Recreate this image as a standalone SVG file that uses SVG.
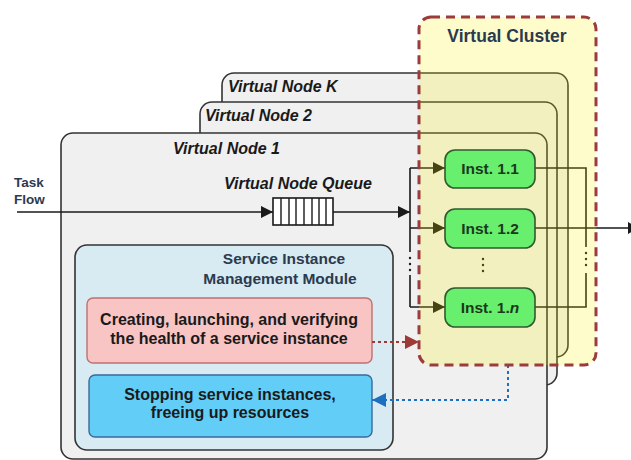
<svg xmlns="http://www.w3.org/2000/svg" width="631" height="460" viewBox="0 0 631 460">
<style>
  .vnode { fill: #f0f0f0; stroke: #333; stroke-width: 1.6; }
  .vlabel { font-family: "Liberation Sans", Arial, sans-serif; font-weight: bold; font-style: italic; font-size: 16px; fill: #1a1a1a; }
  .title { font-family: "Liberation Sans", Arial, sans-serif; font-weight: bold; fill: #2b3a4e; }
  .btxt { font-family: "Liberation Sans", Arial, sans-serif; font-weight: bold; font-size: 16px; fill: #1a1a1a; text-anchor: middle; }
  .inst rect { fill: #68ef6e; stroke: #2f5a2f; stroke-width: 1.6; }
  .inst text { font-family: "Liberation Sans", Arial, sans-serif; font-weight: bold; font-size: 15.5px; fill: #1a3a1a; text-anchor: middle; }
  .line { fill: none; stroke: #1a1a1a; stroke-width: 1.6; }
  .dots { fill: #1a1a1a; }
</style>
<defs>
  <marker id="arr" viewBox="0 0 10 10" refX="10" refY="5" markerWidth="7" markerHeight="7" orient="auto" markerUnits="userSpaceOnUse">
    <path d="M0,0 L10,5 L0,10 z" fill="#1a1a1a"/>
  </marker>
  <marker id="arrBig" viewBox="0 0 10 10" refX="10" refY="5" markerWidth="13" markerHeight="12" orient="auto" markerUnits="userSpaceOnUse">
    <path d="M0,0 L10,5 L0,10 z" fill="#1a1a1a"/>
  </marker>
  <marker id="arrRed" viewBox="0 0 10 10" refX="10" refY="5" markerWidth="14" markerHeight="14" orient="auto" markerUnits="userSpaceOnUse">
    <path d="M0,0 L10,5 L0,10 z" fill="#9b3a36"/>
  </marker>
  <marker id="arrBlue" viewBox="0 0 10 10" refX="10" refY="5" markerWidth="14" markerHeight="14" orient="auto" markerUnits="userSpaceOnUse">
    <path d="M0,0 L10,5 L0,10 z" fill="#1f6fc0"/>
  </marker>
</defs>

<rect x="0" y="0" width="631" height="460" fill="#ffffff"/>

<g id="virtual-node-k">
  <rect class="vnode" x="222" y="73" width="346" height="284" rx="12"/>
  <text class="vlabel" x="228" y="92">Virtual Node K</text>
</g>
<g id="virtual-node-2">
  <rect class="vnode" x="200" y="102" width="357" height="283" rx="12"/>
  <text class="vlabel" x="205" y="121">Virtual Node 2</text>
</g>
<g id="virtual-node-1">
  <rect class="vnode" x="61" y="133" width="486" height="326" rx="12"/>
  <text class="vlabel" x="173" y="154">Virtual Node 1</text>
</g>

<g id="task-flow">
  <text class="title" font-size="13.5" x="14" y="187">Task</text>
  <text class="title" font-size="13.5" x="14" y="204">Flow</text>
</g>

<g id="virtual-node-queue">
  <text class="vlabel" x="224" y="189">Virtual Node Queue</text>
  <rect x="273" y="198" width="60" height="27" fill="#ffffff" stroke="#1a1a1a" stroke-width="1.6"/>
  <path d="M281,198 V225 M289,198 V225 M296,198 V225 M304,198 V225 M312,198 V225 M319,198 V225 M326,198 V225" stroke="#1a1a1a" stroke-width="1.4"/>
</g>

<g id="sim-module">
  <rect x="75" y="245" width="318" height="205" rx="12" fill="#d8eaf2" stroke="#333" stroke-width="1.6"/>
  <text class="title" font-size="15.5" x="284" y="264" text-anchor="middle">Service Instance</text>
  <text class="title" font-size="15.5" x="280" y="284" text-anchor="middle">Management Module</text>
</g>
<g id="create-box">
  <rect x="87" y="298" width="285" height="65" rx="6" fill="#f8c4c4" stroke="#c07070" stroke-width="1.4"/>
  <text class="btxt" x="229" y="325">Creating, launching, and verifying</text>
  <text class="btxt" x="229" y="344">the health of a service instance</text>
</g>
<g id="stop-box">
  <rect x="89" y="375" width="283" height="62" rx="6" fill="#62cdf6" stroke="#3a6a9a" stroke-width="1.4"/>
  <text class="btxt" x="230" y="400">Stopping service instances,</text>
  <text class="btxt" x="230" y="418">freeing up resources</text>
</g>

<g id="connectors">
  <line class="line" x1="17" y1="212" x2="273" y2="212" marker-end="url(#arrBig)"/>
  <line class="line" x1="333" y1="212" x2="410" y2="212" marker-end="url(#arrBig)"/>
  <path class="line" d="M410,168 V252 M410,275 V307"/>
  <circle class="dots" cx="410" cy="258" r="1.2"/>
  <circle class="dots" cx="410" cy="264" r="1.2"/>
  <circle class="dots" cx="410" cy="270" r="1.2"/>
  <line class="line" x1="410" y1="168" x2="445" y2="168" marker-end="url(#arrBig)"/>
  <line class="line" x1="410" y1="228" x2="445" y2="228" marker-end="url(#arrBig)"/>
  <line class="line" x1="410" y1="307" x2="445" y2="307" marker-end="url(#arrBig)"/>
  <path class="line" d="M535,168 H586 V247 M586,273 V307 H535 M535,228 H640"/>
  <circle class="dots" cx="586" cy="253" r="1.2"/>
  <circle class="dots" cx="586" cy="259" r="1.2"/>
  <circle class="dots" cx="586" cy="265" r="1.2"/>
  <path d="M628,222 L638,228 L628,234 z" fill="#1a1a1a"/>
  <circle class="dots" cx="483" cy="259" r="1.2"/>
  <circle class="dots" cx="483" cy="265" r="1.2"/>
  <circle class="dots" cx="483" cy="271" r="1.2"/>
  <line x1="372" y1="342" x2="419" y2="342" stroke="#9b3a36" stroke-width="2" stroke-dasharray="3,3" marker-end="url(#arrRed)"/>
  <path d="M508,365 V400 H372" fill="none" stroke="#1f6fc0" stroke-width="2" stroke-dasharray="3,3" marker-end="url(#arrBlue)"/>
</g>

<g id="virtual-cluster">
  <rect x="419" y="17" width="177" height="348" rx="12" fill="#fff000" fill-opacity="0.2" stroke="#9b3b3b" stroke-width="3" stroke-dasharray="9,6"/>
  <text class="title" font-size="17.5" x="507" y="42" text-anchor="middle" fill="#1a1a1a">Virtual Cluster</text>
</g>

<g id="inst-1-1" class="inst">
  <rect x="445" y="150" width="90" height="38" rx="10"/>
  <text x="490" y="174">Inst. 1.1</text>
</g>
<g id="inst-1-2" class="inst">
  <rect x="445" y="209" width="90" height="39" rx="10"/>
  <text x="490" y="234">Inst. 1.2</text>
</g>
<g id="inst-1-n" class="inst">
  <rect x="445" y="288" width="90" height="39" rx="10"/>
  <text x="490" y="313">Inst. 1.<tspan font-style="italic">n</tspan></text>
</g>
</svg>
